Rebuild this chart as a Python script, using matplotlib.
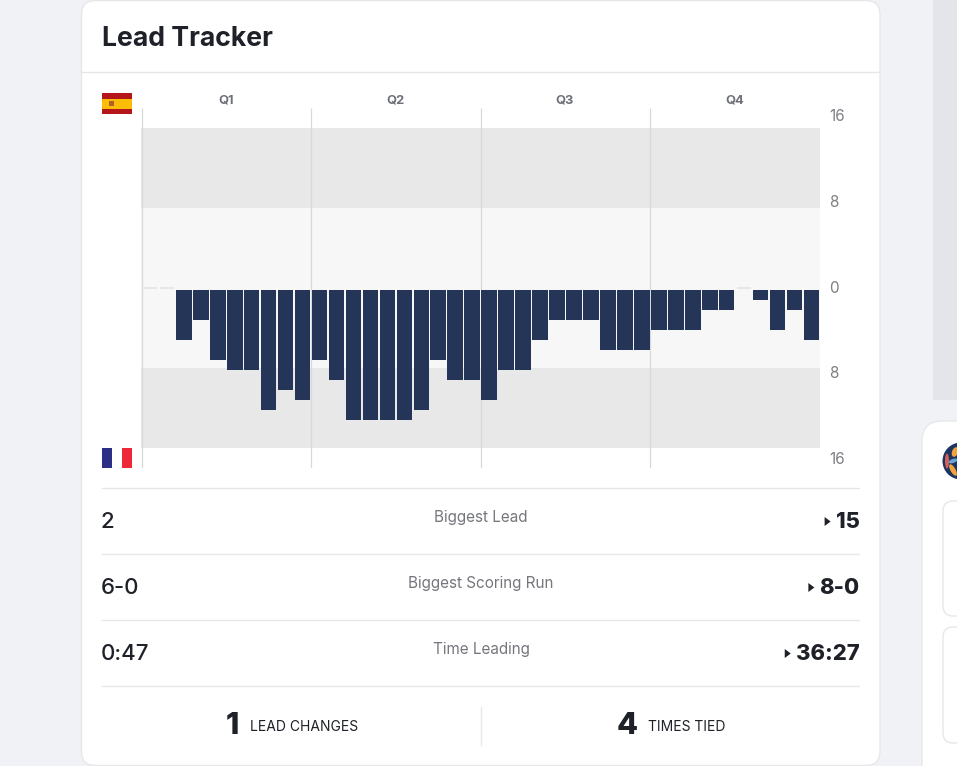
import matplotlib
matplotlib.use('Agg')
import matplotlib.pyplot as plt
from matplotlib.patches import FancyBboxPatch, Rectangle, Polygon, Circle, Ellipse

# lead after each time slice, negative means France ahead
lead = [0, 0, -5, -3, -7, -8, -8, -12, -10, -11,
        -7, -9, -13, -13, -13, -13, -12, -7, -9, -9,
        -11, -8, -8, -5, -3, -3, -3, -6, -6, -6,
        -4, -4, -4, -2, -2, 0, -1, -4, -2, -5]
quarters = ['Q1', 'Q2', 'Q3', 'Q4']
axis_labels = ['16', '8', '0', '8', '16']
stat_names = ['Biggest Lead', 'Biggest Scoring Run', 'Time Leading']
spain_stats = ['2', '6-0', '0:47']
france_stats = ['15', '8-0', '36:27']

FONT = 'Inter'
DARK = '#1f2129'
GREY = '#75777d'
LINE = '#e6e7e9'
PAGE = '#f0f2f6'
NAVY = '#243558'

fig = plt.figure(figsize=(9.57, 7.66), dpi=100, facecolor=PAGE)

# page layer in pixel coordinates
bg = fig.add_axes([0, 0, 1, 1])
bg.set_xlim(0, 957)
bg.set_ylim(766, 0)
bg.axis('off')


def card(x, y, w, h, r, edge=LINE):
    bg.add_patch(FancyBboxPatch((x + r, y + r), w - 2 * r, h - 2 * r,
                                boxstyle=f'round,pad={r},rounding_size={r}',
                                fc='white', ec=edge, lw=1))


bg.add_patch(Rectangle((933, -2), 30, 402, fc='#e3e5ea', ec='none'))
card(81.5, 0.5, 798.5, 765, 14)
card(922, 421, 80, 380, 20)
card(943, 501, 60, 115, 10)
card(943, 627, 60, 116, 10)

# clipped logo on the next card
bg.add_patch(Circle((961, 461), 18.5, fc='#1d3461', ec='none'))
bg.add_patch(Ellipse((947, 461), 4, 15, fc='#d9605a', ec='none'))
bg.add_patch(Ellipse((955, 452), 6, 10, angle=20, fc='#f2a33a', ec='none'))
bg.add_patch(Ellipse((953, 470), 5, 13, angle=-30, fc='#f2a33a', ec='none'))
bg.add_patch(Ellipse((953, 461), 9, 4, angle=-20, fc='#6aa5d8', ec='none'))

bg.text(102, 39, 'Lead Tracker', fontsize=19.2, fontweight='bold', family=FONT,
        color=DARK, ha='left', va='center')
bg.plot([82, 880], [72, 72], color=LINE, lw=1)

# flags
bg.add_patch(Rectangle((102, 93), 30, 21, fc='#b5161c', ec='none'))
bg.add_patch(Rectangle((102, 98.5), 30, 10.5, fc='#fcbd07', ec='none'))
bg.add_patch(Rectangle((109, 101), 5, 5, fc='#b0622a', ec='none'))
bg.add_patch(Rectangle((102, 448), 10, 20, fc='#2b2f86', ec='none'))
bg.add_patch(Rectangle((122, 448), 10, 20, fc='#ed2939', ec='none'))

# lead bars
ax = fig.add_axes([141.4 / 957, 1 - 468 / 766, 678.6 / 957, 360 / 766])
ax.set_xlim(0, len(lead))
ax.set_ylim(-18, 18)
ax.axis('off')
ax.patch.set_alpha(0)
ax.axhspan(8, 16, color='#e8e8e8', lw=0, zorder=0)
ax.axhspan(-8, 8, color='#f7f7f7', lw=0, zorder=0)
ax.axhspan(-16, -8, color='#e8e8e8', lw=0, zorder=0)
ax.vlines([0.03, 10, 20, 30], -18, 18, color='#d8d8d8', lw=0.9, zorder=1)
xs = [i + 0.5 for i in range(len(lead))]
ax.bar(xs, lead, width=0.92, bottom=-0.15, color=NAVY, lw=0, zorder=2)
for x, v in zip(xs, lead):
    if v == 0:
        ax.hlines(0, x - 0.42, x + 0.42, color='#e6e6e6', lw=1.3, zorder=2)

for i, q in enumerate(quarters):
    bg.text(226 + 169.5 * i, 101, q, fontsize=9.3, fontweight='bold', family=FONT,
            color='#6f7178', ha='center', va='center')
for label, y in zip(axis_labels, [116.5, 202.5, 288.5, 373.5, 459.5]):
    bg.text(829, y, label, fontsize=11, family=FONT, color='#7d7f85',
            ha='left', va='center')

# stat rows
for y in [488, 554, 620, 686]:
    bg.plot([102, 859], [y, y], color=LINE, lw=1)
for i in range(3):
    bg.text(101, 522 + 66 * i, spain_stats[i], fontsize=16, fontweight='medium', family=FONT,
            color=DARK, ha='left', va='center')
    bg.text(481, 517.5 + 66 * i, stat_names[i], fontsize=11, family=FONT,
            color=GREY, ha='center', va='center')
    t = bg.text(859.5, 522 + 66 * i, france_stats[i], fontsize=15.8, fontweight='heavy',
                family=FONT, color=DARK, ha='right', va='center')
    fig.canvas.draw()
    left = bg.transData.inverted().transform(t.get_window_extent().get_points())[0][0]
    yc = 521.5 + 66 * i
    bg.add_patch(Polygon([(left - 11, yc - 4.5), (left - 5, yc), (left - 11, yc + 4.5)],
                         fc=DARK, ec='none'))

# bottom counts
bg.plot([481, 481], [707, 745], color=LINE, lw=1)
bg.text(232, 726, '1', fontsize=22, fontweight='heavy', family=FONT, color=DARK,
        ha='center', va='center')
bg.text(250, 727, 'LEAD CHANGES', fontsize=10, family=FONT, color=DARK,
        ha='left', va='center')
bg.text(627, 726, '4', fontsize=22, fontweight='heavy', family=FONT, color=DARK,
        ha='center', va='center')
bg.text(648, 727, 'TIMES TIED', fontsize=10, family=FONT, color=DARK,
        ha='left', va='center')

fig.savefig('out.png', dpi=100, facecolor=fig.get_facecolor())
